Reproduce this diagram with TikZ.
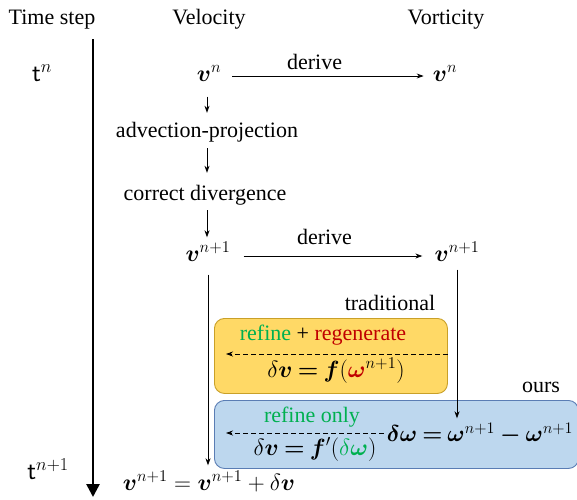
\RequirePackage{fix-cm}
\documentclass[tikz,border=0pt]{standalone}
\usepackage{amsmath,bm}
\usepackage{fontspec}
\setmainfont{Liberation Serif}
\newfontfamily\timesfont{Liberation Serif}
\usetikzlibrary{positioning,arrows.meta}
\definecolor{boxyellow}{RGB}{255,217,102}
\definecolor{edgeyellow}{RGB}{201,160,40}
\definecolor{boxblue}{RGB}{189,215,238}
\definecolor{edgeblue}{RGB}{90,125,180}
\definecolor{refgreen}{RGB}{0,176,80}
\definecolor{regred}{RGB}{192,0,0}

\tikzset{
  lbl/.style={inner sep=2pt, text height=15pt, text depth=5pt, font=\timesfont\fontsize{22}{26}\selectfont},
  mth/.style={inner sep=2pt, text height=17pt, text depth=6pt, font=\fontsize{23.5}{28}\selectfont},
  flow/.style={-{Stealth[length=7pt,width=5pt]}, line width=0.8pt},
  dashflow/.style={flow, dash pattern=on 5pt off 3pt},
  panel/.style={rounded corners=10pt, line width=0.9pt, anchor=north west}
}

\begin{document}
\begin{tikzpicture}[x=1pt,y=-1pt]
  \useasboundingbox (0,0) rectangle (577,499);
  % column headers
  \node[lbl] (timestep) at (52,19) {Time step};
  \node[lbl] (velocity) at (209,19) {Velocity};
  \node[lbl] (vorticity) at (446,19) {Vorticity};
  % time axis
  \coordinate (tstart) at (93,39);
  \coordinate (tend) at (93,497);
  \draw[line width=2.6pt,-{Triangle[length=13pt,width=13pt]}] (tstart) -- (tend);
  \node[mth, font=\fontsize{26}{30}\selectfont] (tn) at (42,76) {$\mathsf{t}^{n}$};
  \node[mth, font=\fontsize{26}{30}\selectfont] (tnp) at (48,474) {$\mathsf{t}^{n+1}$};
  % velocity column
  \node[mth] (vn) at (209,76) {$\bm{v}^{n}$};
  \node[lbl] (advproj) at (207,132) {advection-projection};
  \node[lbl] (corrdiv) at (205,195) {correct divergence};
  \node[mth] (vnp) at (208,256) {$\bm{v}^{n+1}$};
  \node[mth] (vfinal) at (209,485) {$\bm{v}^{n+1}=\bm{v}^{n+1}+\delta\bm{v}$};
  % vorticity column
  \node[mth] (wn) at (445,76) {$\bm{v}^{n}$};
  \node[mth] (wnp) at (457,256) {$\bm{v}^{n+1}$};
  \draw[flow, shorten <=9pt, shorten >=7pt] (vn) -- node[lbl,above,pos=0.44,yshift=-1pt] {derive} (wn);
  \draw[flow, shorten <=11pt, shorten >=10pt] (vnp) -- node[lbl,above,pos=0.46,yshift=4pt] {derive} (wnp);
  \draw[flow, shorten <=7pt, shorten >=7pt] (vn.south -| advproj) -- (advproj);
  \draw[flow, shorten <=4pt, shorten >=10pt] (advproj) -- (corrdiv.north -| advproj);
  \draw[flow, shorten <=3pt, shorten >=5pt] (corrdiv.south -| advproj) -- (advproj |- vnp.north);
  % traditional correction
  \node[lbl] (tradlbl) at (390,305) {traditional};
  \node[panel, draw=edgeyellow, fill=boxyellow, minimum width=233pt, minimum height=75pt] (tradbox) at (214,318) {};
  \node[lbl] (tradtxt) at (323,335) {\textcolor{refgreen}{refine} + \textcolor{regred}{regenerate}};
  \node[mth] (tradeq) at (336,372) {$\delta\bm{v}\mathbin{\bm{=}}\bm{f}(\textcolor{regred}{\bm{\omega}}^{n+1})$};
  \coordinate (tradend) at (226,354);
  \draw[dashflow] (tradbox.east |- tradend) -- (tradend);
  % our correction
  \node[lbl] (ourslbl) at (541,387) {ours};
  \node[panel, draw=edgeblue, fill=boxblue, minimum width=364pt, minimum height=68pt] (oursbox) at (214,400) {};
  \node[lbl] (ourstxt) at (312,417) {\textcolor{refgreen}{refine only}};
  \node[mth] (ourseq) at (315,450) {$\delta\bm{v}\mathbin{\bm{=}}\bm{f}'(\textcolor{refgreen}{\delta\bm{\omega}})$};
  \node[mth, font=\fontsize{23}{27}\selectfont, inner sep=0pt] (dw) at (480,436) {$\bm{\delta\omega}\mathbin{\bm{=}}\bm{\omega}^{n+1}\mathbin{\bm{-}}\bm{\omega}^{n+1}$};
  \coordinate (oursend) at (226,433);
  \draw[dashflow] (dw.west |- oursend) ++(-3pt,0) -- (oursend);
  % vertical connectors
  \draw[flow, shorten <=5pt, shorten >=6pt] (vnp) -- (vfinal.north -| vnp);
  \draw[flow, shorten >=6pt] (wnp) -- (wnp |- dw.north);
\end{tikzpicture}
\end{document}
